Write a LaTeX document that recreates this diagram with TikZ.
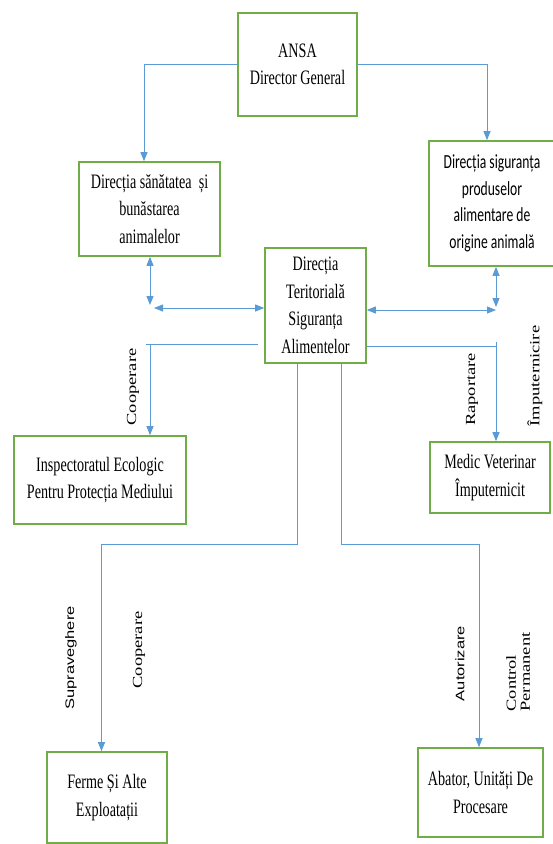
\documentclass[tikz,border=0pt]{standalone}
\usepackage{fontspec}
\usepackage{graphicx}
\usetikzlibrary{arrows.meta}
\newfontfamily\boxserif[FakeStretch=0.69]{Liberation Serif}
\newfontfamily\boxsans[FakeStretch=0.68]{Carlito}
\newfontfamily\labserif{Liberation Serif}
\newfontfamily\labsans{Liberation Sans}
\definecolor{boxgreen}{RGB}{112,173,71}
\definecolor{linkblue}{RGB}{91,155,213}
\newcommand{\sq}[1]{\scalebox{1}[0.75]{#1}}
\begin{document}
\begin{tikzpicture}[x=1pt,y=-1pt,
  box/.style={draw=boxgreen, line width=1.6pt, align=center, inner sep=0pt,
    font=\boxserif\fontsize{20.5}{27.5}\selectfont},
  sbox/.style={box, font=\boxsans\fontsize{20}{26.5}\selectfont},
  link/.style={draw=linkblue, line width=0.9pt},
  arr/.style={link, -{Triangle[length=9pt,width=7pt]}},
  darr/.style={link, {Triangle[length=9pt,width=7pt]}-{Triangle[length=9pt,width=7pt]}},
  lab/.style={rotate=90, inner sep=0pt, align=left,
    font=\labserif\fontsize{18.5}{14}\selectfont},
  slab/.style={lab, font=\labsans\fontsize{16.5}{14}\selectfont}
]
\useasboundingbox (0,0) rectangle (552,844);

% boxes
\node[box, minimum width=119pt, minimum height=103pt] (ansa) at (297.5,64.5) {ANSA\\Director General};
\node[box, minimum width=141pt, minimum height=94pt] (dsba) at (149.5,209) {Direcția sănătatea~ și\\bunăstarea\\animalelor};
\node[sbox, minimum width=126pt, minimum height=125pt] (dspa) at (492,203.5) {Direcția siguranța\\produselor\\alimentare de\\origine animală};
\node[box, minimum width=101pt, minimum height=115pt] (dtsa) at (315.5,305.5) {Direcția\\Teritorială\\Siguranța\\Alimentelor};
\node[box, minimum width=172pt, minimum height=88pt] (insp) at (100,480) {Inspectoratul Ecologic\\Pentru Protecția Mediului};
\node[box, minimum width=120pt, minimum height=71pt] (medic) at (490,477.5) {Medic Veterinar\\Împuternicit};
\node[box, minimum width=119.5pt, minimum height=91pt] (ferme) at (107,797.5) {Ferme Și Alte\\Exploatații};
\node[box, minimum width=125pt, minimum height=89pt] (abator) at (480.5,792.5) {Abator, Unități De\\Procesare};

% labels
\node[lab] (lcoop1) at (133,387) {\sq{Cooperare}};
\node[lab] (lrap) at (472,389.5) {\sq{Raportare}};
\node[lab] (limp) at (535,376) {\sq{Împuternicire}};
\node[slab] (lsup) at (71,658) {\sq{Supraveghere}};
\node[lab] (lcoop2) at (139,650) {\sq{Cooperare}};
\node[slab] (laut) at (460,663.5) {\sq{Autorizare}};
\node[lab] (lctrl) at (518,672) {\sq{Control}\\\sq{Permanent}};

% connectors from ANSA
\draw[arr] (ansa.west) -| ([xshift=-5.5pt]dsba.north);
\draw[arr] (ansa.east) -| ([xshift=-5pt]dspa.north);

% left double arrows
\coordinate (lv) at (150,305);
\draw[darr] (lv |- dsba.south) -- (lv);
\coordinate (lh) at (154,308);
\draw[darr] (lh) -- (lh -| dtsa.west);

% right double arrows
\coordinate (rv) at (496,307);
\draw[darr] (rv |- dspa.south) -- (rv);
\coordinate (rh) at (496,310);
\draw[darr] (rh -| dtsa.east) -- (rh);

% cooperare to inspectorat
\coordinate (ca) at (146,344);
\draw[link, shorten <=6pt] (dtsa.west |- ca) -- (ca);
\coordinate (cc) at (150,344);
\draw[arr] (cc) -- (cc |- insp.north);

% raportare to medic
\coordinate (ra) at (496,346);
\draw[link] (dtsa.east |- ra) -- (ra);
\coordinate (rt) at (496,342);
\draw[arr] (rt) -- (rt |- medic.north);

% bottom branches
\coordinate (bl) at (101.5,544);
\draw[arr] ([xshift=-18pt]dtsa.south) |- (bl) -- (bl |- ferme.north);
\coordinate (br) at (479,544);
\draw[arr] ([xshift=26pt]dtsa.south) |- (br) -- (br |- abator.north);
\end{tikzpicture}
\end{document}
